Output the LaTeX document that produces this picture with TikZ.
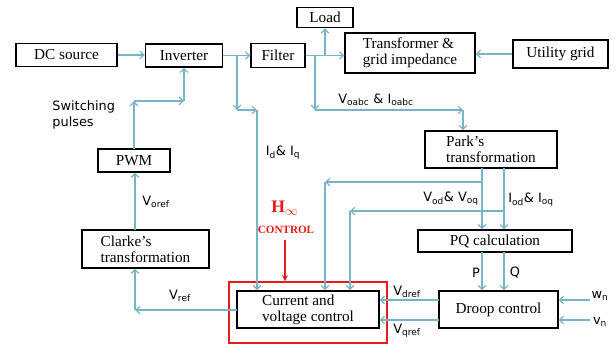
\documentclass[tikz,border=0pt]{standalone}
\usepackage{fontspec}
\setmainfont{Liberation Serif}
\newfontfamily\labelfont{DejaVu Sans}
\usetikzlibrary{arrows.meta, positioning, calc}
\definecolor{sigblue}{RGB}{120, 180, 200}
\definecolor{hinfred}{RGB}{235, 25, 25}

\begin{document}
\begin{tikzpicture}[x=0.03cm, y=-0.03cm, >={Straight Barb[length=3.5pt,width=6.5pt]},
    block/.style={draw, line width=1.2pt, inner sep=1pt, align=left,
      font=\fontsize{13}{13.5}\selectfont},
    sig/.style={->, sigblue, line width=1pt},
    lbl/.style={font=\labelfont\fontsize{11}{13}\selectfont, inner sep=1pt}]
  \useasboundingbox (0,0) rectangle (616,344);
  % Power stage
  \node[block, minimum width=3.03cm, minimum height=0.69cm] (dc)    at (66.5,55)  {DC source};
  \node[block, minimum width=2.31cm, minimum height=0.69cm] (inv)   at (184,55.5) {Inverter};
  \node[block, minimum width=1.62cm, minimum height=0.72cm] (filt)  at (278,55.5) {Filter};
  \node[block, minimum width=1.68cm, minimum height=0.60cm] (load)  at (325,17.5) {Load};
  \node[block, minimum width=3.90cm, minimum height=1.20cm] (trafo) at (410,53)   {Transformer \&\\grid impedance};
  \node[block, minimum width=2.85cm, minimum height=0.84cm] (grid)  at (560.5,54) {Utility grid};
  % Control stage
  \node[block, minimum width=3.96cm, minimum height=1.11cm] (park)   at (491,149.5)  {Park's\\transformation};
  \node[block, minimum width=4.62cm, minimum height=0.66cm] (pq)     at (495,241)    {PQ calculation};
  \node[block, minimum width=3.57cm, minimum height=1.11cm] (droop)  at (498.5,309.5){Droop control};
  \node[block, minimum width=4.26cm, minimum height=1.11cm] (cvc)    at (308,309.5)  {Current and\\voltage control};
  \node[block, minimum width=2.16cm, minimum height=0.69cm] (pwm)    at (134,160.5)  {PWM};
  \node[block, minimum width=3.81cm, minimum height=1.14cm] (clarke) at (145.5,249)  {Clarke's\\transformation};
  \node[draw=hinfred, line width=1.5pt, minimum width=4.74cm, minimum height=1.83cm] (hbox) at (308,312.5) {};

  % Forward path
  \draw[sig] (dc.east) -- (dc.east -| inv.west);
  \draw[sig] (inv.east) -- (filt.west);
  \draw[sig] (filt.east) -- (trafo.west |- filt.east);
  \draw[sig] (grid.west) -- (trafo.east |- grid.west);
  \coordinate (jl) at (325,55.5);
  \draw[sig] (jl) -- (load.south);

  % Measured I_d & I_q
  \coordinate (ji) at (237,55.5);
  \coordinate (ci1) at (237,110);
  \coordinate (ci2) at (257,110);
  \draw[sig] (ji) -- (ci1);
  \draw[sig] (ci1) -- (ci2);
  \draw[sig] (ci2) -- (ci2 |- cvc.north);
  \node[lbl] (lid) at (283,153) {I\textsubscript{d}\& I\textsubscript{q}};

  % Measured V_oabc & I_oabc
  \coordinate (jv) at (315,55.5);
  \coordinate (cv1) at (315,110);
  \coordinate (cv2) at (463,110);
  \draw[sig] (jv) -- (cv1);
  \draw[sig] (cv1) -- (cv2);
  \draw[sig] (cv2) -- (cv2 |- park.north);
  \node[lbl] (loabc) at (376,100) {V\textsubscript{oabc} \& I\textsubscript{oabc}};

  % Park outputs
  \coordinate (pv) at (482,168);
  \coordinate (pi) at (504,168);
  \draw[sig] (pv) -- (pv |- pq.north);
  \draw[sig] (pi) -- (pi |- pq.north);
  \coordinate (bv1) at (482,182);
  \coordinate (bv2) at (325,182);
  \draw[sig] (bv1) -- (bv2);
  \draw[sig] (bv2) -- (bv2 |- cvc.north);
  \coordinate (bi1) at (504,211);
  \coordinate (bi2) at (350,211);
  \draw[sig] (bi1) -- (bi2);
  \draw[sig] (bi2) -- (bi2 |- cvc.north);
  \node[lbl] (lvod) at (451,199) {V\textsubscript{od}\& V\textsubscript{oq}};
  \node[lbl] (liod) at (531,200) {I\textsubscript{od}\& I\textsubscript{oq}};

  % PQ to droop
  \coordinate (pp) at (482,252);
  \coordinate (pqq) at (504,252);
  \draw[sig] (pp) -- (pp |- droop.north);
  \draw[sig] (pqq) -- (pqq |- droop.north);
  \node[lbl] (lp) at (476,273) {P};
  \node[lbl] (lq) at (515,273) {Q};

  % Droop references
  \coordinate (dd) at (439,300);
  \coordinate (dq) at (439,320);
  \draw[sig] (dd) -- (dd -| cvc.east);
  \draw[sig] (dq) -- (dq -| cvc.east);
  \node[lbl] (ldref) at (407,292) {V\textsubscript{dref}};
  \node[lbl] (lqref) at (407,331) {V\textsubscript{qref}};
  \coordinate (wn) at (590,300);
  \coordinate (vn) at (590,320);
  \draw[sig] (wn) -- (wn -| droop.east);
  \draw[sig] (vn) -- (vn -| droop.east);
  \node[lbl] (lwn) at (600,296) {w\textsubscript{n}};
  \node[lbl] (lvn) at (600,322) {v\textsubscript{n}};

  % Back to the inverter
  \coordinate (cr1) at (237,310);
  \coordinate (cr2) at (135,310);
  \draw[sig] (cr1) -- (cr2);
  \draw[sig] (cr2) -- (cr2 |- clarke.south);
  \node[lbl] (lref) at (180,296) {V\textsubscript{ref}};
  \coordinate (co) at (135,230);
  \draw[sig] (co) -- (co |- pwm.south);
  \node[lbl] (loref) at (156,202) {V\textsubscript{oref}};
  \coordinate (sp1) at (134,149);
  \coordinate (sp2) at (134,101);
  \coordinate (sp3) at (184,101);
  \draw[sig] (sp1) -- (sp2);
  \draw[sig] (sp2) -- (sp3);
  \draw[sig] (sp3) -- (sp3 |- inv.south);
  \node[lbl, align=left, anchor=west] (lsw) at (51,115) {Switching\\pulses};

  % H-infinity label
  \node[text=hinfred, font=\bfseries\fontsize{15}{16}\selectfont, inner sep=0pt] (hinf) at (285,208)
    {H\textsubscript{$\infty$}};
  \node[text=hinfred, font=\bfseries\fontsize{9.5}{10}\selectfont, inner sep=1pt] (hctl) at (286,230) {CONTROL};
  \coordinate (ha) at (285,240);
  \draw[->, hinfred, line width=1.2pt, >={Stealth[length=5pt,width=5pt]}] (ha) -- (ha |- hbox.north);
\end{tikzpicture}
\end{document}
